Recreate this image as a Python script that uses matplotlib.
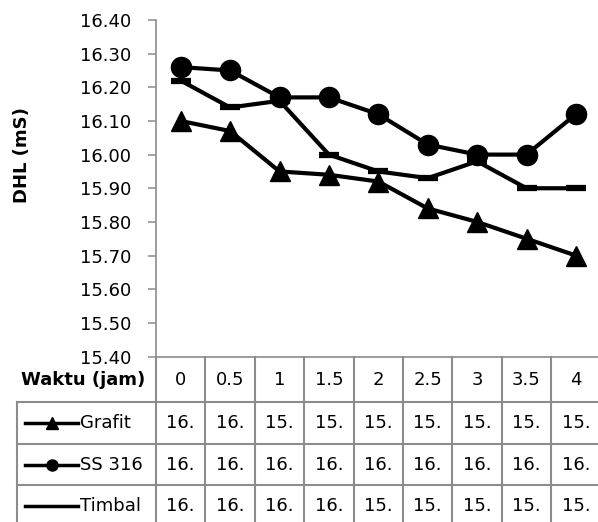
import matplotlib
matplotlib.use('Agg')
import numpy as np
import matplotlib.pyplot as plt
from matplotlib.lines import Line2D
from matplotlib.transforms import blended_transform_factory

# --- data: DHL (mS) vs waktu (jam) for each electrode ---
waktu = ['0', '0.5', '1', '1.5', '2', '2.5', '3', '3.5', '4']
grafit = [16.10, 16.07, 15.95, 15.94, 15.92, 15.84, 15.80, 15.75, 15.70]
ss316 = [16.26, 16.25, 16.17, 16.17, 16.12, 16.03, 16.00, 16.00, 16.12]
timbal = [16.22, 16.14, 16.16, 16.00, 15.95, 15.93, 15.98, 15.90, 15.90]

series_names = ['Grafit', 'SS 316', 'Timbal']
series_values = [grafit, ss316, timbal]
series_markers = ['^', 'o', '_']

W, H = 598, 522
plt.rcParams['font.family'] = ['DejaVu Sans']
grey = '#8c8c8c'
fs = 13


def fx(px):
    return px / W


def fy(py):
    return 1 - py / H


fig = plt.figure(figsize=(W / 100, H / 100), dpi=100)
fig.patch.set_facecolor('white')

# plot area
ax = fig.add_axes([fx(156), fy(356.5), 444.6 / W, (356.5 - 20) / H])
x = np.arange(len(waktu))
for vals, m in zip(series_values, series_markers):
    if m == '_':
        ax.plot(x, vals, color='black', lw=3, marker=m, ms=15, mew=4.5,
                clip_on=False, zorder=3)
    else:
        ax.plot(x, vals, color='black', lw=3, marker=m, ms=14.5,
                clip_on=False, zorder=3)

ax.set_xlim(-0.5, len(waktu) - 0.5)
ax.set_ylim(15.40, 16.40)
ax.set_yticks(np.round(np.arange(15.40, 16.41, 0.10), 2))
ax.yaxis.set_major_formatter(matplotlib.ticker.FormatStrFormatter('%.2f'))
ax.set_xticks([])
for s in ['top', 'right']:
    ax.spines[s].set_visible(False)
for s in ['left', 'bottom']:
    ax.spines[s].set_color(grey)
    ax.spines[s].set_linewidth(1.2)
ax.tick_params(axis='y', direction='out', length=6, width=1.1, color=grey,
               labelsize=fs, pad=12)

fig.text(fx(22), fy(155), 'DHL (mS)', rotation=90, weight='bold',
         ha='center', va='center', size=fs)

# --- data table under the axis ---
tr = blended_transform_factory(ax.transData, fig.transFigure)
y_top, y_head, y_bottom = 356.5, 402, 530
row_edges = [402, 443.5, 485]
row_centers = [423, 464.5, 506]

for i in range(len(waktu) + 1):
    fig.add_artist(Line2D([i - 0.5, i - 0.5], [fy(y_top), fy(y_bottom)],
                          transform=tr, color=grey, lw=1.5))
for yy in row_edges:
    fig.add_artist(Line2D([fx(17), 1.02], [fy(yy), fy(yy)],
                          transform=fig.transFigure, color=grey, lw=1.5))
fig.add_artist(Line2D([fx(17), fx(17)], [fy(y_head), fy(y_bottom)],
                      transform=fig.transFigure, color=grey, lw=1.5))

fig.text(fx(145), fy(380), 'Waktu (jam)', weight='bold', ha='right',
         va='center', size=fs)
for i, w in enumerate(waktu):
    fig.text(i, fy(380), w, transform=tr, ha='center', va='center', size=fs)

for name, vals, m, yc in zip(series_names, series_values, series_markers,
                             row_centers):
    fig.add_artist(Line2D([fx(25), fx(78)], [fy(yc), fy(yc)],
                          transform=fig.transFigure, color='black', lw=2.5))
    if m != '_':
        fig.add_artist(Line2D([fx(51.5)], [fy(yc)], transform=fig.transFigure,
                              color='black', marker=m, ms=8, lw=0))
    fig.text(fx(80), fy(yc), name, ha='left', va='center', size=fs)
    for i, v in enumerate(vals):
        fig.text(i, fy(yc), f'{v:.2f}'[:3], transform=tr, ha='center',
                 va='center', size=fs)

fig.savefig('out.png', dpi=100)
